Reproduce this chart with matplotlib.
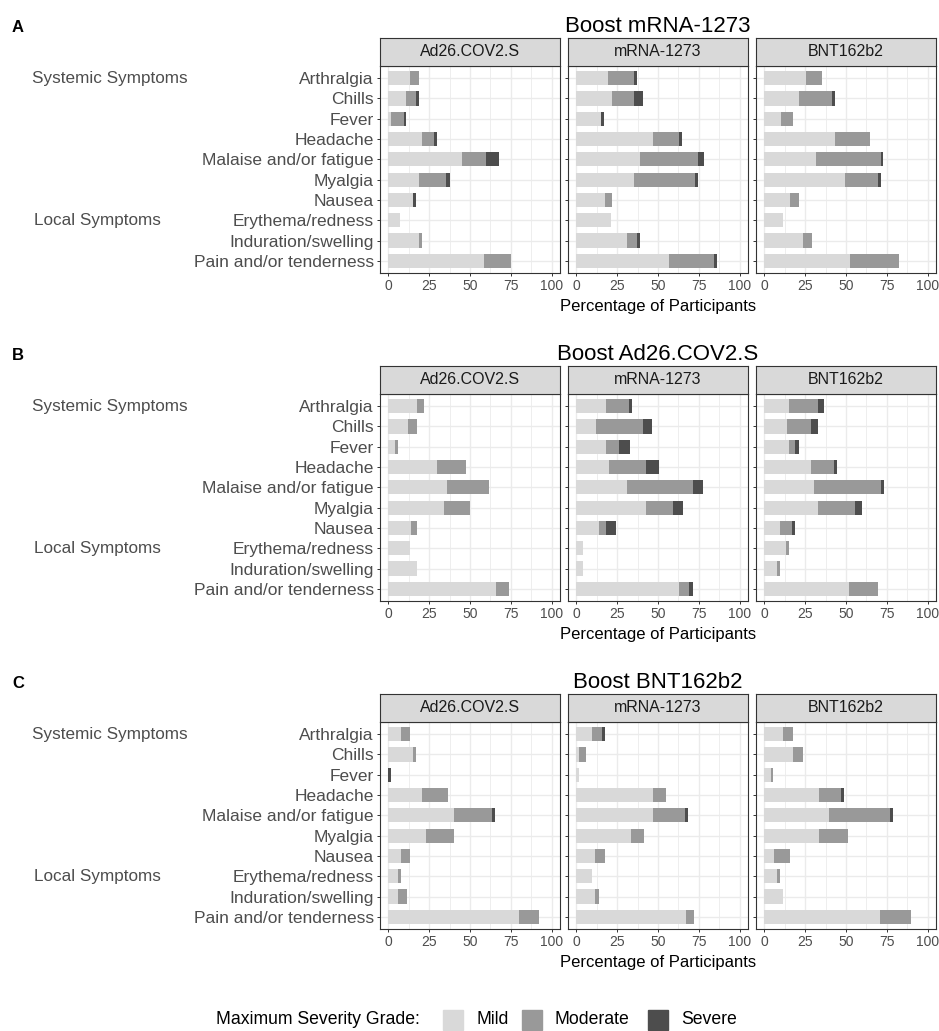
import matplotlib
matplotlib.use('Agg')
import matplotlib.pyplot as plt
import matplotlib.transforms as mtransforms
from matplotlib.patches import Rectangle
import numpy as np

plt.rcParams['font.family'] = ['Liberation Sans', 'DejaVu Sans']

W, H = 939, 1031

symptoms = ['Arthralgia', 'Chills', 'Fever', 'Headache', 'Malaise and/or fatigue',
            'Myalgia', 'Nausea', 'Erythema/redness', 'Induration/swelling',
            'Pain and/or tenderness']
vaccines = ['Ad26.COV2.S', 'mRNA-1273', 'BNT162b2']
boosts = ['Boost mRNA-1273', 'Boost Ad26.COV2.S', 'Boost BNT162b2']
letters = ['A', 'B', 'C']
grades = ['Mild', 'Moderate', 'Severe']
grade_colors = ['#d9d9d9', '#999999', '#4d4d4d']

# percentages per grade (segment lengths), one list per primary vaccine
# Boost mRNA-1273
a_ad26_mild = [13.5, 11, 2, 20.5, 45, 19, 15, 7.5, 19, 58.5]
a_ad26_mod = [5.5, 6, 7.5, 7.5, 14.5, 16.5, 0, 0, 1.5, 16.5]
a_ad26_sev = [0, 2, 1.5, 2, 8, 2, 2, 0, 0, 0]
a_mrna_mild = [19.7, 21.7, 15.4, 47.2, 39, 35.4, 17.7, 21.3, 31.3, 56.9]
a_mrna_mod = [15.7, 13.7, 0, 15.6, 35.6, 37.2, 4, 0, 5.7, 27.4]
a_mrna_sev = [1.6, 5.6, 1.9, 1.6, 3.7, 2, 0, 0, 2, 1.5]
a_bnt_mild = [25.7, 21.3, 10, 43.2, 31.7, 49.2, 15.7, 11.6, 23.7, 52.4]
a_bnt_mod = [9.4, 20.1, 7.7, 21.7, 39.4, 20.1, 5.6, 0, 5.6, 29.9]
a_bnt_sev = [0, 1.8, 0, 0, 1.6, 1.8, 0, 0, 0, 0]

# Boost Ad26.COV2.S
b_ad26_mild = [17.8, 12.2, 4, 29.8, 36.1, 33.9, 13.8, 13.6, 17.8, 65.9]
b_ad26_mod = [4.1, 5.6, 2.1, 17.9, 25.4, 15.8, 4, 0, 0, 7.7]
b_ad26_sev = [0, 0, 0, 0, 0, 0, 0, 0, 0, 0]
b_mrna_mild = [18.3, 12.2, 18.3, 20.3, 30.9, 42.7, 14.2, 4, 4, 63]
b_mrna_mod = [14.2, 28.5, 8.1, 22.4, 40.2, 16.2, 4.1, 0, 0, 6.1]
b_mrna_sev = [1.8, 5.8, 6.3, 8.1, 6.5, 6.1, 6.1, 0, 0, 2]
b_bnt_mild = [15.3, 13.7, 15.3, 28.9, 30.7, 32.7, 9.6, 13.3, 7.6, 51.8]
b_bnt_mod = [17.4, 15.2, 3.8, 13.5, 40.8, 23.1, 7.7, 2, 1.8, 17.5]
b_bnt_sev = [3.8, 3.8, 2, 1.8, 1.6, 4, 1.8, 0, 0, 0]

# Boost BNT162b2
c_ad26_mild = [8.1, 15.2, 0, 20.9, 40, 22.9, 8.1, 5.9, 5.9, 80]
c_ad26_mod = [5.5, 1.8, 0, 15.6, 23.3, 17.1, 5.5, 2, 5.7, 12]
c_ad26_sev = [0, 0, 2, 0, 1.8, 0, 0, 0, 0, 0]
c_mrna_mild = [9.8, 2, 2, 47.2, 47.2, 33.3, 11.8, 9.8, 11.8, 67]
c_mrna_mod = [5.9, 3.9, 0, 7.5, 19.5, 8, 5.9, 0, 2, 5]
c_mrna_sev = [1.8, 0, 0, 0, 1.8, 0, 0, 0, 0, 0]
c_bnt_mild = [11.6, 17.7, 4, 33.7, 39.4, 33.7, 6, 7.6, 11.6, 70.7]
c_bnt_mod = [6.1, 6, 1.6, 13.5, 37.5, 17.3, 9.7, 2, 0, 18.9]
c_bnt_sev = [0, 0, 0, 1.8, 1.6, 0, 0, 0, 0, 0]

data = [
    [(a_ad26_mild, a_ad26_mod, a_ad26_sev), (a_mrna_mild, a_mrna_mod, a_mrna_sev),
     (a_bnt_mild, a_bnt_mod, a_bnt_sev)],
    [(b_ad26_mild, b_ad26_mod, b_ad26_sev), (b_mrna_mild, b_mrna_mod, b_mrna_sev),
     (b_bnt_mild, b_bnt_mod, b_bnt_sev)],
    [(c_ad26_mild, c_ad26_mod, c_ad26_sev), (c_mrna_mild, c_mrna_mod, c_mrna_sev),
     (c_bnt_mild, c_bnt_mod, c_bnt_sev)],
]


def px_rect(x0, y0, w, h):
    return [x0 / W, 1 - (y0 + h) / H, w / W, h / H]


fig = plt.figure(figsize=(W / 100, H / 100), dpi=100)

panel_x = [380, 568, 756]
panel_w = 180
strip_h = 28
plot_h = 207
period = 328
y = np.arange(len(symptoms))

for r in range(3):
    strip_top = 38 + r * period
    plot_top = strip_top + strip_h
    for c in range(3):
        ax = fig.add_axes(px_rect(panel_x[c], plot_top, panel_w, plot_h))
        left = np.zeros(len(symptoms))
        for vals, col in zip(data[r][c], grade_colors):
            vals = np.array(vals)
            ax.barh(y, vals, left=left, height=0.7, color=col, zorder=3)
            left = left + vals
        ax.set_xlim(-5, 105)
        ax.set_ylim(len(symptoms) - 0.4, -0.6)
        ax.set_xticks([0, 25, 50, 75, 100])
        ax.set_xticks([12.5, 37.5, 62.5, 87.5], minor=True)
        ax.set_yticks(y)
        ax.grid(which='major', color='#ebebeb', lw=1.0, zorder=0)
        ax.grid(which='minor', axis='x', color='#ebebeb', lw=0.6, zorder=0)
        ax.tick_params(which='major', length=2.5, width=0.7, color='#333333',
                       labelsize=10, labelcolor='#4d4d4d', pad=2)
        ax.tick_params(which='minor', length=0)
        for s in ax.spines.values():
            s.set_color('#333333')
            s.set_linewidth(0.8)
        if c == 0:
            ax.set_yticklabels(symptoms, fontsize=12.5)
            tr = mtransforms.blended_transform_factory(fig.transFigure, ax.transData)
            ax.text(32 / W, 0, 'Systemic Symptoms', transform=tr, ha='left',
                    va='center', fontsize=12.3, color='#4d4d4d')
            ax.text(34 / W, 7, 'Local Symptoms', transform=tr, ha='left',
                    va='center', fontsize=12.3, color='#4d4d4d')
        else:
            ax.set_yticklabels([])

        sax = fig.add_axes(px_rect(panel_x[c], strip_top, panel_w, strip_h))
        sax.set_facecolor('#d9d9d9')
        sax.set_xticks([])
        sax.set_yticks([])
        for s in sax.spines.values():
            s.set_color('#333333')
            s.set_linewidth(0.8)
        sax.text(0.5, 0.5, vaccines[c], ha='center', va='center',
                 fontsize=11.5, color='#1a1a1a', transform=sax.transAxes)

    cx = (panel_x[0] + panel_x[2] + panel_w) / 2
    fig.text(cx / W, 1 - (strip_top - 12) / H, boosts[r], ha='center',
             va='center', fontsize=16, color='black')
    fig.text(12 / W, 1 - (strip_top - 10) / H, letters[r], ha='left',
             va='center', fontsize=12, fontweight='bold')
    fig.text(658 / W, 1 - (plot_top + plot_h + 34) / H, 'Percentage of Participants',
             ha='center', va='center', fontsize=12, color='black')

# legend
ly = 1020
fig.text(420 / W, 1 - ly / H, 'Maximum Severity Grade:', ha='right', va='center',
         fontsize=12.7, color='black')
for gx, g, col in zip([443, 522, 648], grades, grade_colors):
    fig.add_artist(Rectangle((gx / W, 1 - (ly + 10) / H), 20 / W, 20 / H,
                             transform=fig.transFigure, color=col))
    fig.text((gx + 33) / W, 1 - ly / H, g, ha='left', va='center',
             fontsize=12.7, color='black')

fig.savefig('out.png', dpi=100)
